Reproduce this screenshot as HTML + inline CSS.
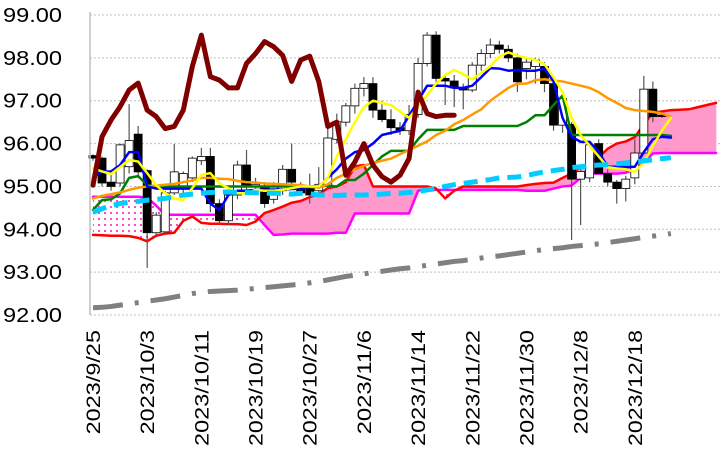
<!DOCTYPE html>
<html><head><meta charset="utf-8"><style>
html,body{margin:0;padding:0;background:#fff;}
svg{display:block;font-family:"Liberation Sans",sans-serif;}
</style></head><body>
<svg id="chart" width="724" height="459" viewBox="0 0 724 459" xmlns="http://www.w3.org/2000/svg">
<defs>
<pattern id="dots" width="6" height="6" patternUnits="userSpaceOnUse">
<rect width="6" height="6" fill="#fff"/>
<circle cx="3" cy="3" r="1.1" fill="#ff33cc"/>
</pattern>
</defs>
<g id="grid"></g>
<g id="cloud"></g>
<g id="candles"></g>
<g id="lines"></g>
<g id="axes"></g>
</svg>
<script>
const yTicks=[99,98,97,96,95,94,93,92];
const xLabels=["2023/9/25","2023/10/3","2023/10/11","2023/10/19","2023/10/27","2023/11/6","2023/11/14","2023/11/22","2023/11/30","2023/12/8","2023/12/18"];
const xLabelSlots=[0,6,12,18,24,30,36,42,48,54,60];
const opens=[95.72,95.66,95.1,95.08,95.46,96.22,95.37,93.92,93.94,94.85,95.0,95.2,95.6,95.7,94.6,94.2,94.8,95.5,95.0,95.0,94.7,94.9,95.4,95.0,94.95,94.9,95.03,96.1,96.5,96.88,97.29,97.4,96.78,96.56,96.37,96.3,96.68,97.87,98.53,97.52,97.46,97.3,97.25,97.83,98.1,98.3,98.2,98.0,97.75,97.8,97.8,97.4,96.43,96.45,95.17,95.2,96.0,95.3,95.1,94.95,95.2,95.78,97.27,96.66];
const highs=[95.75,95.7,95.3,96.0,96.92,96.41,95.4,94.4,94.9,95.99,95.35,95.7,95.9,95.9,94.7,94.85,95.6,95.85,95.2,95.1,95.1,95.5,96.0,95.1,95.3,95.45,96.4,96.7,96.95,97.4,97.55,97.55,97.0,96.8,96.5,96.9,98.0,98.6,98.62,97.6,97.6,97.4,97.9,98.2,98.45,98.4,98.3,98.1,98.0,98.0,97.9,97.5,97.2,96.5,95.4,96.05,96.1,95.4,95.15,95.25,96.1,97.58,97.45,96.7];
const lows=[95.6,95.0,94.9,95.0,95.3,95.2,93.1,93.85,93.9,94.8,94.8,95.1,95.5,94.4,94.1,94.1,94.7,94.9,94.8,94.5,94.6,94.8,95.0,94.8,94.6,94.8,94.95,96.0,96.4,96.7,97.1,96.6,96.5,96.2,96.2,96.2,96.6,97.8,97.4,96.9,96.85,96.8,97.2,97.7,98.0,98.1,97.9,97.2,97.5,97.4,97.2,96.3,96.25,93.75,94.1,95.1,95.3,95.0,94.6,94.65,95.05,95.75,96.5,96.6];
const closes=[95.66,95.08,95.0,95.97,96.07,95.34,93.92,94.33,94.85,95.34,95.3,95.66,95.7,94.6,94.2,94.8,95.5,95.0,95.05,94.6,95.0,95.4,95.1,94.85,94.8,95.05,96.13,96.51,96.88,97.29,97.4,96.78,96.56,96.37,96.3,96.68,97.87,98.53,97.52,97.46,97.3,97.25,97.83,98.1,98.3,98.2,98.0,97.44,97.9,97.95,97.4,96.43,97.05,95.17,95.35,95.97,95.3,95.1,94.95,95.17,95.78,97.27,96.63,96.64];
const tenkan=[95.2,95.35,95.35,95.5,95.8,95.8,95.0,94.95,94.95,94.95,94.95,94.95,94.95,94.6,94.45,94.8,94.9,94.9,94.92,94.92,94.93,94.93,94.94,94.95,95.0,95.0,95.2,95.4,95.65,95.8,95.85,96.0,96.2,96.25,96.3,96.65,97.0,97.35,97.35,97.35,97.3,97.3,97.35,97.55,97.76,97.75,97.7,97.72,97.7,97.7,97.75,97.45,96.6,96.16,96.04,96.04,95.8,95.46,95.46,95.45,95.46,95.8,96.1,96.16,96.14];
const kijun=[94.45,94.68,94.7,94.84,95.2,95.24,95.03,95.0,95.0,95.0,95.0,95.0,95.0,95.0,95.0,95.0,95.0,95.0,95.0,95.0,95.0,95.0,95.0,95.0,95.0,95.0,95.02,95.0,95.15,95.15,95.3,95.5,95.7,95.83,95.83,95.83,96.1,96.32,96.32,96.32,96.32,96.41,96.41,96.41,96.41,96.41,96.41,96.41,96.5,96.66,96.66,96.9,97.12,96.2,96.2,96.2,96.2,96.2,96.2,96.2,96.2,96.2,96.2,96.2,96.18];
const ma1=[95.42,95.35,95.29,95.45,95.62,95.58,95.31,95.03,94.84,94.72,94.68,94.96,95.27,95.31,95.07,94.96,94.84,94.84,94.92,94.9,94.9,94.92,94.96,95.0,95.0,95.0,95.2,95.7,96.1,96.5,96.85,97.0,96.95,96.9,96.75,96.6,96.86,97.13,97.4,97.6,97.72,97.62,97.5,97.65,97.8,98.03,98.13,98.05,98.0,97.95,97.85,97.55,97.2,96.6,96.2,95.95,95.7,95.45,95.42,95.4,95.34,95.55,95.95,96.3,96.6];
const ma2=[94.72,94.78,94.82,94.86,94.92,94.97,95.0,95.02,95.04,95.06,95.1,95.14,95.2,95.2,95.18,95.17,95.13,95.1,95.09,95.07,95.06,95.05,95.04,95.03,95.0,94.97,95.05,95.2,95.3,95.4,95.48,95.55,95.6,95.65,95.75,95.85,95.95,96.05,96.2,96.3,96.45,96.55,96.68,96.8,97.0,97.15,97.3,97.4,97.4,97.48,97.5,97.47,97.45,97.4,97.35,97.3,97.2,97.06,96.95,96.83,96.78,96.76,96.74,96.7,96.63];
const ma3=[94.4,94.48,94.55,94.6,94.63,94.65,94.68,94.7,94.72,94.76,94.8,94.82,94.84,94.86,94.87,94.87,94.86,94.86,94.85,94.84,94.84,94.83,94.82,94.84,94.83,94.8,94.8,94.79,94.8,94.8,94.8,94.81,94.82,94.84,94.84,94.86,94.88,94.92,94.95,95.0,95.04,95.07,95.1,95.13,95.16,95.2,95.21,95.22,95.25,95.3,95.34,95.37,95.4,95.44,95.46,95.48,95.5,95.51,95.53,95.55,95.57,95.6,95.62,95.65,95.67];
const ma4=[92.17,92.18,92.2,92.23,92.26,92.29,92.32,92.35,92.38,92.42,92.46,92.5,92.53,92.55,92.56,92.57,92.58,92.6,92.62,92.64,92.66,92.68,92.7,92.72,92.75,92.78,92.82,92.86,92.9,92.93,92.96,92.99,93.02,93.05,93.08,93.1,93.13,93.16,93.19,93.22,93.25,93.27,93.3,93.33,93.36,93.38,93.41,93.44,93.47,93.5,93.53,93.55,93.57,93.6,93.62,93.64,93.66,93.69,93.72,93.75,93.78,93.81,93.84,93.87,93.9];
const chikou=[95.03,96.16,96.55,96.86,97.25,97.41,96.78,96.63,96.35,96.4,96.78,97.8,98.53,97.56,97.48,97.3,97.3,97.87,98.1,98.38,98.26,98.06,97.45,97.95,98.04,97.45,96.4,96.5,95.26,95.57,96.0,95.5,95.23,95.1,95.26,95.65,97.2,96.7,96.63,96.66,96.66];
const spanA=[93.87,93.86,93.85,93.85,93.84,93.8,93.72,93.85,93.9,93.92,94.2,94.3,94.15,94.13,94.13,94.12,94.12,94.1,94.18,94.38,94.45,94.53,94.62,94.66,94.75,94.82,94.96,95.0,95.1,95.47,95.5,95.0,95.0,95.0,95.0,95.0,95.0,95.0,94.95,94.72,94.9,95.0,95.0,95.0,95.0,95.0,95.0,95.0,95.03,95.06,95.08,95.09,95.2,95.3,95.45,95.55,95.68,95.88,96.0,96.05,96.15,96.45,96.72,96.75,96.78,96.79,96.8,96.85,96.9,96.95];
const spanB=[94.76,94.76,94.76,94.76,94.76,94.76,94.74,94.55,94.34,94.34,94.34,94.34,94.34,94.34,94.34,94.34,94.34,94.34,94.34,94.1,93.87,93.88,93.9,93.9,93.9,93.9,93.9,93.92,93.92,94.37,94.37,94.37,94.37,94.37,94.37,94.37,94.9,94.95,94.92,94.92,94.92,94.92,94.92,94.92,94.92,94.92,94.92,94.92,94.9,94.9,94.9,94.95,95.0,95.02,95.2,95.3,95.3,95.3,95.3,95.32,95.4,95.55,95.77,95.78,95.78,95.78,95.78,95.78,95.78,95.78];

const NS="http://www.w3.org/2000/svg";
function xs(i){return 93+9.03*i;}
function ys(v){return 15+(99-v)*42.86;}
function mk(tag,attrs,parent){const e=document.createElementNS(NS,tag);for(const k in attrs)e.setAttribute(k,attrs[k]);parent.appendChild(e);return e;}
const grid=document.getElementById('grid'),cloud=document.getElementById('cloud'),cg=document.getElementById('candles'),lg=document.getElementById('lines'),ax=document.getElementById('axes');

yTicks.forEach(v=>{
  const l=mk('line',{x1:90,x2:720,y1:ys(v),y2:ys(v),stroke:'#bfbfbf','stroke-width':1,'stroke-dasharray':'2,2'},grid);
  
  
  const t=mk('text',{x:3,y:ys(v)+7,'font-size':20,textLength:59,lengthAdjust:'spacingAndGlyphs',fill:'#000'},ax);
  t.textContent=v.toFixed(2);
  
  
});
const yaxis=mk('line',{x1:90,x2:90,y1:12,y2:315,stroke:'#bfbfbf','stroke-width':1.5},ax);


xLabels.forEach((s,k)=>{
  const x=xs(xLabelSlots[k])+7;
  const t=mk('text',{x:0,y:0,'font-size':19,'text-anchor':'end',textLength:s.length*11.6,lengthAdjust:'spacingAndGlyphs',transform:`translate(${x},330) rotate(-90)`,fill:'#000'},ax);
  t.textContent=s;
  
  
});

// cloud
for(let i=0;i<spanA.length-1;i++){
  const a0=spanA[i],a1=spanA[i+1],b0=spanB[i],b1=spanB[i+1];
  const up=(a0+a1)>(b0+b1);
  const p=mk('polygon',{points:`${xs(i)},${ys(a0)} ${xs(i+1)},${ys(a1)} ${xs(i+1)},${ys(b1)} ${xs(i)},${ys(b0)}`,fill:up?'#ff99cc':'url(#dots)',stroke:up?'#ff99cc':'none','stroke-width':0.5},cloud);
  
  
}
function line(arr,color,w,dash,name,parent){
  const pts=arr.map((v,i)=>xs(i)+','+ys(v)).join(' ');
  const p=mk('polyline',{points:pts,fill:'none',stroke:color,'stroke-width':w,'stroke-linejoin':'round','stroke-linecap':dash?'butt':'round'},parent);
  if(dash)p.setAttribute('stroke-dasharray',dash);
  
  
}
line(spanB,'#ff00ff',2.5,null,'senkou-span-b',cloud);
line(spanA,'#ff0000',2.5,null,'senkou-span-a',cloud);

// candles
opens.forEach((o,i)=>{
  const c=closes[i],x=xs(i);
  const w=mk('line',{x1:x,x2:x,y1:ys(highs[i]),y2:ys(lows[i]),stroke:'#555','stroke-width':1.2},cg);
  
  
  const top=ys(Math.max(o,c)),bot=ys(Math.min(o,c));
  const r=mk('rect',{x:x-4,y:top,width:8,height:Math.max(1.2,bot-top),fill:c>=o?'#fff':'#000',stroke:'#000','stroke-width':0.8},cg);
  
  
});

line(kijun,'#008000',2.5,null,'kijun-sen',lg);
line(ma2,'#ff9900',2.5,null,'moving-average-orange',lg);
line(tenkan,'#0000ff',2.5,null,'tenkan-sen',lg);
line(ma1,'#ffff00',2.5,null,'moving-average-yellow',lg);
line(ma3,'#00ccff',5,'14,8','moving-average-cyan',lg);
line(chikou,'#800000',5,null,'chikou-span',lg);
line(ma4,'#808080',5,'30,12,4,12','moving-average-gray',lg);
</script>
</body></html>
